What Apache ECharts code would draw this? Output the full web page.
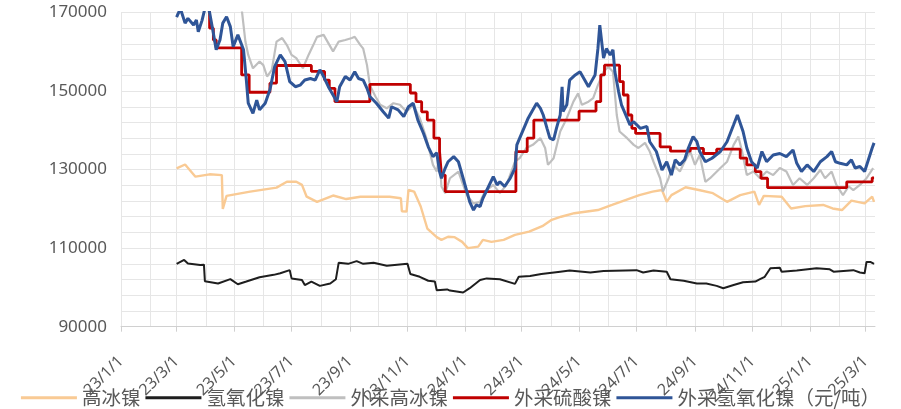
<!DOCTYPE html>
<html>
<head>
<meta charset="utf-8">
<script src="https://cdn.jsdelivr.net/npm/echarts@6/dist/echarts.min.js"></script>
<style>
html,body{margin:0;padding:0;background:#fff;}
#c{width:901px;height:409px;}
</style>
</head>
<body>
<div id="c"></div>
<script>
// ---- Data ----
const startDate = '2023-01-01';
const endDate = '2025-03-11';
const legendNames = ['高冰镍', '氢氧化镍', '外采高冰镍', '外采硫酸镍', '外采氢氧化镍（元/吨）'];
const yTicks = [90000, 110000, 130000, 150000, 170000];

const gaoBingNie = [
['2023-03-01',130300],['2023-03-10',131300],['2023-03-21',128200],['2023-04-05',128800],['2023-04-18',128600],
['2023-04-19',120000],['2023-04-23',123300],['2023-05-18',124400],['2023-06-15',125400],['2023-06-26',126900],
['2023-07-06',126900],['2023-07-12',126100],['2023-07-17',123100],['2023-07-28',121800],['2023-08-14',123400],
['2023-08-28',122500],['2023-09-12',123100],['2023-10-13',123100],['2023-10-25',122700],['2023-10-26',119400],
['2023-10-31',119300],['2023-11-02',124800],['2023-11-08',124400],['2023-11-15',120600],['2023-11-22',115000],
['2023-12-02',112800],['2023-12-07',112100],['2023-12-14',112900],['2023-12-21',112800],['2023-12-29',111600],
['2024-01-04',110000],['2024-01-15',110400],['2024-01-20',112100],['2024-01-29',111600],['2024-02-11',112100],
['2024-02-23',113400],['2024-03-09',114200],['2024-03-23',115600],['2024-04-02',117200],['2024-04-12',118000],
['2024-04-26',118900],['2024-05-21',119700],['2024-06-05',121000],['2024-06-14',121800],['2024-07-04',123500],
['2024-07-18',124400],['2024-07-28',124800],['2024-08-02',121800],['2024-08-07',123500],['2024-08-22',125500],
['2024-09-05',124800],['2024-09-20',124000],['2024-10-05',121800],['2024-10-19',123500],['2024-11-03',124400],
['2024-11-08',121000],['2024-11-13',123300],['2024-12-02',123100],['2024-12-12',120100],['2024-12-27',120700],
['2025-01-15',121000],['2025-01-25',120100],['2025-02-04',119700],['2025-02-14',122100],['2025-02-28',121400],
['2025-03-08',123100],['2025-03-10',121800]
];

const qingYangHuaNie = [
['2023-03-01',106000],['2023-03-09',107000],['2023-03-13',106100],['2023-03-26',105700],['2023-03-30',105800],
['2023-03-31',101600],['2023-04-14',101000],['2023-04-27',102100],['2023-05-05',100800],['2023-05-14',101500],
['2023-05-28',102600],['2023-06-12',103200],['2023-06-19',103600],['2023-06-29',104400],['2023-07-01',102300],
['2023-07-12',101900],['2023-07-15',100600],['2023-07-22',101500],['2023-07-31',100400],['2023-08-11',101000],
['2023-08-17',102100],['2023-08-20',106300],['2023-08-30',106000],['2023-09-08',106700],['2023-09-15',106000],
['2023-09-26',106300],['2023-10-10',105500],['2023-11-01',106000],['2023-11-04',103400],['2023-11-14',102700],
['2023-11-23',101700],['2023-11-30',101500],['2023-12-02',99300],['2023-12-13',99500],['2023-12-16',99200],
['2023-12-30',98700],['2024-01-06',99800],['2024-01-17',101900],['2024-01-24',102300],['2024-02-07',102100],
['2024-02-23',100900],['2024-02-27',102700],['2024-03-10',102900],['2024-03-22',103400],['2024-04-11',104000],
['2024-04-21',104300],['2024-05-13',103800],['2024-05-27',104200],['2024-07-01',104400],['2024-07-08',103800],
['2024-07-19',104300],['2024-08-02',104000],['2024-08-06',102100],['2024-08-20',101700],['2024-09-03',101000],
['2024-09-13',101000],['2024-09-24',100400],['2024-10-01',99800],['2024-10-12',100600],['2024-10-22',101300],
['2024-11-04',101500],['2024-11-09',102100],['2024-11-14',102700],['2024-11-20',104900],['2024-11-30',105000],
['2024-12-02',104000],['2024-12-18',104300],['2025-01-08',104900],['2025-01-22',104600],['2025-01-26',104000],
['2025-02-16',104400],['2025-02-23',103800],['2025-02-28',103600],['2025-03-02',106500],['2025-03-06',106500],
['2025-03-10',106000]
];

const waiCaiGaoBingNie = [
['2023-03-01',178000],['2023-05-09',171000],['2023-05-13',162600],['2023-05-16',159200],['2023-05-21',155800],
['2023-05-28',157500],['2023-06-01',156600],['2023-06-05',153700],['2023-06-10',155400],['2023-06-15',162600],
['2023-06-21',163500],['2023-06-26',161700],['2023-07-01',159200],['2023-07-06',158400],['2023-07-13',155800],
['2023-07-19',159200],['2023-07-24',161700],['2023-07-28',163800],['2023-08-04',164300],['2023-08-09',162200],
['2023-08-14',160100],['2023-08-20',162600],['2023-08-27',163000],['2023-09-03',163500],['2023-09-06',163800],
['2023-09-12',161700],['2023-09-15',160800],['2023-09-19',156600],['2023-09-22',151500],['2023-09-28',148600],
['2023-10-03',146500],['2023-10-10',145600],['2023-10-17',146900],['2023-10-24',146500],['2023-10-31',144700],
['2023-11-07',146500],['2023-11-14',143100],['2023-11-21',138000],['2023-11-28',131200],['2023-12-02',129500],
['2023-12-05',132900],['2023-12-07',125700],['2023-12-11',124000],['2023-12-16',127800],['2023-12-25',129500],
['2023-12-30',126100],['2024-01-03',123500],['2024-01-10',121400],['2024-01-17',121800],['2024-01-22',124400],
['2024-01-31',126100],['2024-02-07',124000],['2024-02-14',126100],['2024-02-23',132000],['2024-02-28',132900],
['2024-03-06',135500],['2024-03-13',136300],['2024-03-21',138000],['2024-03-26',135500],['2024-03-29',131200],
['2024-04-04',132900],['2024-04-11',139700],['2024-04-18',143100],['2024-04-25',147300],['2024-04-30',149400],
['2024-05-04',146500],['2024-05-11',147300],['2024-05-16',148200],['2024-05-21',151500],['2024-05-27',154900],
['2024-06-01',156200],['2024-06-06',154900],['2024-06-10',143900],['2024-06-13',139700],['2024-06-21',138000],
['2024-06-28',136300],['2024-07-03',135500],['2024-07-10',136800],['2024-07-15',134600],['2024-07-19',132000],
['2024-07-26',127800],['2024-07-29',124400],['2024-08-04',127800],['2024-08-09',131200],['2024-08-16',129500],
['2024-08-21',132000],['2024-08-27',134600],['2024-09-01',131200],['2024-09-06',133700],['2024-09-12',126900],
['2024-09-17',127800],['2024-09-28',130400],['2024-10-05',132000],['2024-10-12',136300],['2024-10-17',138400],
['2024-10-21',134600],['2024-10-26',128600],['2024-11-02',129500],['2024-11-09',127800],['2024-11-16',129500],
['2024-11-23',128600],['2024-11-30',130400],['2024-12-07',129500],['2024-12-14',126100],['2024-12-21',127800],
['2024-12-29',126100],['2025-01-05',127800],['2025-01-12',129900],['2025-01-17',127800],['2025-01-24',129500],
['2025-01-29',126100],['2025-02-05',123500],['2025-02-11',125700],['2025-02-16',124800],['2025-02-23',126100],
['2025-03-02',127800],['2025-03-09',130400]
];

// step series: value holds from its date until the next date
const waiCaiLiuSuanNie = [
['2023-03-01',176000],['2023-04-05',166000],['2023-04-09',163000],['2023-04-12',161000],['2023-05-09',154100],
['2023-05-17',149700],['2023-06-08',152000],['2023-06-15',156500],['2023-07-22',155000],['2023-08-05',152800],
['2023-08-10',150700],['2023-08-16',147300],['2023-09-22',151700],['2023-11-04',149500],['2023-11-10',147300],
['2023-11-16',144700],['2023-11-22',142600],['2023-11-29',138000],['2023-12-05',134600],['2023-12-07',128600],
['2023-12-11',124400],['2024-02-24',134600],['2024-03-07',138000],['2024-03-14',142600],['2024-05-01',144900],
['2024-05-19',147300],['2024-05-24',154100],['2024-05-28',156600],['2024-06-13',152400],['2024-06-17',149000],
['2024-06-22',143900],['2024-06-26',140500],['2024-06-30',139200],['2024-07-26',135800],['2024-08-06',134700],
['2024-08-27',135400],['2024-09-10',134100],['2024-09-24',135200],['2024-10-19',132900],['2024-10-26',131200],
['2024-11-04',129500],['2024-11-10',127800],['2024-11-17',125400],['2025-02-09',126900],['2025-03-08',127900],
['2025-03-10',127900]
];

const waiCaiQingYangHuaNie = [
['2023-03-01',168800],['2023-03-05',171000],['2023-03-10',167300],['2023-03-13',168500],['2023-03-19',166800],
['2023-03-22',168100],['2023-03-24',165100],['2023-03-28',168000],['2023-03-31',171000],['2023-04-03',172000],
['2023-04-05',170000],['2023-04-09',164700],['2023-04-12',160500],['2023-04-16',163000],['2023-04-19',167300],
['2023-04-23',168900],['2023-04-27',166400],['2023-04-30',161300],['2023-05-05',164300],['2023-05-11',160500],
['2023-05-14',152800],['2023-05-16',146900],['2023-05-21',144300],['2023-05-25',147700],['2023-05-28',145200],
['2023-06-03',146900],['2023-06-08',150300],['2023-06-13',156200],['2023-06-19',159200],['2023-06-24',157500],
['2023-06-29',152400],['2023-07-05',151100],['2023-07-10',151500],['2023-07-15',152800],['2023-07-21',153200],
['2023-07-26',152800],['2023-07-31',155400],['2023-08-04',153700],['2023-08-09',151100],['2023-08-14',149000],
['2023-08-18',147300],['2023-08-21',151100],['2023-08-27',153700],['2023-09-01',152800],['2023-09-06',154900],
['2023-09-10',153200],['2023-09-15',152800],['2023-09-19',150700],['2023-09-22',148600],['2023-09-29',146900],
['2023-10-06',144800],['2023-10-12',143100],['2023-10-15',146000],['2023-10-22',145200],['2023-10-28',143500],
['2023-11-02',146000],['2023-11-07',146900],['2023-11-12',142600],['2023-11-18',139200],['2023-11-23',135800],
['2023-11-28',133300],['2023-12-02',134300],['2023-12-05',129500],['2023-12-07',127800],['2023-12-11',130400],
['2023-12-14',132000],['2023-12-20',133300],['2023-12-25',132000],['2023-12-30',127800],['2024-01-03',124400],
['2024-01-06',121800],['2024-01-10',119700],['2024-01-13',121000],['2024-01-17',120600],['2024-01-20',122700],
['2024-01-26',125700],['2024-01-31',128200],['2024-02-04',126100],['2024-02-07',126900],['2024-02-12',125700],
['2024-02-18',127800],['2024-02-23',130400],['2024-02-25',136300],['2024-02-28',138000],['2024-03-05',141400],
['2024-03-08',143100],['2024-03-12',144800],['2024-03-17',146900],['2024-03-21',145600],['2024-03-24',143900],
['2024-03-28',140500],['2024-03-31',138000],['2024-04-04',137600],['2024-04-07',140500],['2024-04-11',143900],
['2024-04-13',151100],['2024-04-14',144800],['2024-04-18',146500],['2024-04-21',152800],['2024-04-27',154100],
['2024-05-02',154900],['2024-05-07',152800],['2024-05-11',151100],['2024-05-14',152400],['2024-05-18',154100],
['2024-05-21',160800],['2024-05-23',166800],['2024-05-25',166800],['2024-05-27',158400],['2024-05-30',160800],
['2024-06-03',159200],['2024-06-06',160500],['2024-06-08',154900],['2024-06-12',149800],['2024-06-15',146500],
['2024-06-21',143100],['2024-06-24',141400],['2024-06-28',142200],['2024-07-05',140500],['2024-07-12',141000],
['2024-07-15',137100],['2024-07-22',134600],['2024-07-28',129900],['2024-08-02',132000],['2024-08-07',128600],
['2024-08-11',132500],['2024-08-16',131200],['2024-08-21',132500],['2024-08-25',135500],['2024-08-30',138400],
['2024-09-03',137100],['2024-09-06',134600],['2024-09-12',132000],['2024-09-19',132900],['2024-09-28',134600],
['2024-10-05',137100],['2024-10-12',141400],['2024-10-16',143900],['2024-10-19',141800],['2024-10-22',139700],
['2024-10-26',135500],['2024-10-31',132000],['2024-11-06',130400],['2024-11-11',134600],['2024-11-16',132000],
['2024-11-23',133700],['2024-11-30',134100],['2024-12-07',133300],['2024-12-14',135000],['2024-12-18',131600],
['2024-12-23',129500],['2024-12-29',131200],['2025-01-05',129500],['2025-01-12',132000],['2025-01-19',133300],
['2025-01-24',134600],['2025-01-28',132000],['2025-02-02',131600],['2025-02-09',131200],['2025-02-14',132500],
['2025-02-18',130400],['2025-02-23',130800],['2025-02-28',129500],['2025-03-04',132500],['2025-03-08',135500],
['2025-03-10',136800]
];

// ---- Build daily category axis ----
function pad(n){return n<10?'0'+n:''+n;}
function buildDays(s, e){
  const out=[]; const d=new Date(s+'T00:00:00Z'); const end=new Date(e+'T00:00:00Z');
  while(d<=end){out.push(d.getUTCFullYear()+'-'+pad(d.getUTCMonth()+1)+'-'+pad(d.getUTCDate())); d.setUTCDate(d.getUTCDate()+1);}
  return out;
}
const days = buildDays(startDate, endDate);
const isMonthStart = v => v.slice(8) === '01';
const isLabelDay = v => isMonthStart(v) && (parseInt(v.slice(5,7),10) % 2 === 1);
const fmtLabel = v => v.slice(2,4)+'/'+parseInt(v.slice(5,7),10)+'/'+parseInt(v.slice(8),10);

const textColor = '#595959';
const gridColor = '#E6E6E6';
const colors = ['#F9CA94', '#1E1E1E', '#BFBFBF', '#C00000', '#2F5597'];
const widths = [2.4, 2, 2.2, 2.8, 3];
const seriesData = [gaoBingNie, qingYangHuaNie, waiCaiGaoBingNie, waiCaiLiuSuanNie, waiCaiQingYangHuaNie];

const chart = echarts.init(document.getElementById('c'), null, {renderer:'canvas'});
chart.setOption({
  animation:false,
  backgroundColor:'#fff',
  grid:{left:121, right:26, top:12.5, bottom:82.3, containLabel:false},
  legend:{
    data:legendNames.map(n=>({name:n, icon:'rect'})), top:388, left:'center', padding:0,
    itemWidth:56, itemHeight:3, itemGap:5,
    textStyle:{color:textColor, fontSize:19.5, fontFamily:'"Noto Sans CJK SC", sans-serif'}
  },
  xAxis:{
    type:'category', data:days, boundaryGap:false,
    axisLine:{show:true, lineStyle:{color:'#D0D0D0', width:1}},
    axisTick:{show:true, length:5, interval:(i,v)=>isLabelDay(v), lineStyle:{color:'#D0D0D0'}},
    axisLabel:{interval:(i,v)=>isLabelDay(v), rotate:45, margin:32, color:textColor, fontSize:16,
      fontFamily:'"Noto Sans", sans-serif', formatter:fmtLabel},
    splitLine:{show:true, interval:(i,v)=>isMonthStart(v), lineStyle:{color:gridColor, width:1}}
  },
  yAxis:{
    type:'value', min:yTicks[0], max:yTicks[yTicks.length-1], interval:20000,
    axisLine:{show:false}, axisTick:{show:false},
    axisLabel:{color:textColor, fontSize:17, margin:14, fontFamily:'"Noto Sans", sans-serif',
      formatter:v=>String(v)},
    splitLine:{show:true, lineStyle:{color:gridColor, width:1}},
    minorTick:{show:false, splitNumber:5},
    minorSplitLine:{show:true, lineStyle:{color:gridColor, width:1}}
  },
  series: seriesData.map((d,i)=>({
    name:legendNames[i], type:'line', data:d, symbol:'none', showSymbol:false,
    step: i===3 ? 'end' : false, clip:true,
    lineStyle:{color:colors[i], width:widths[i]}, itemStyle:{color:colors[i]}
  }))
});
</script>
</body>
</html>
